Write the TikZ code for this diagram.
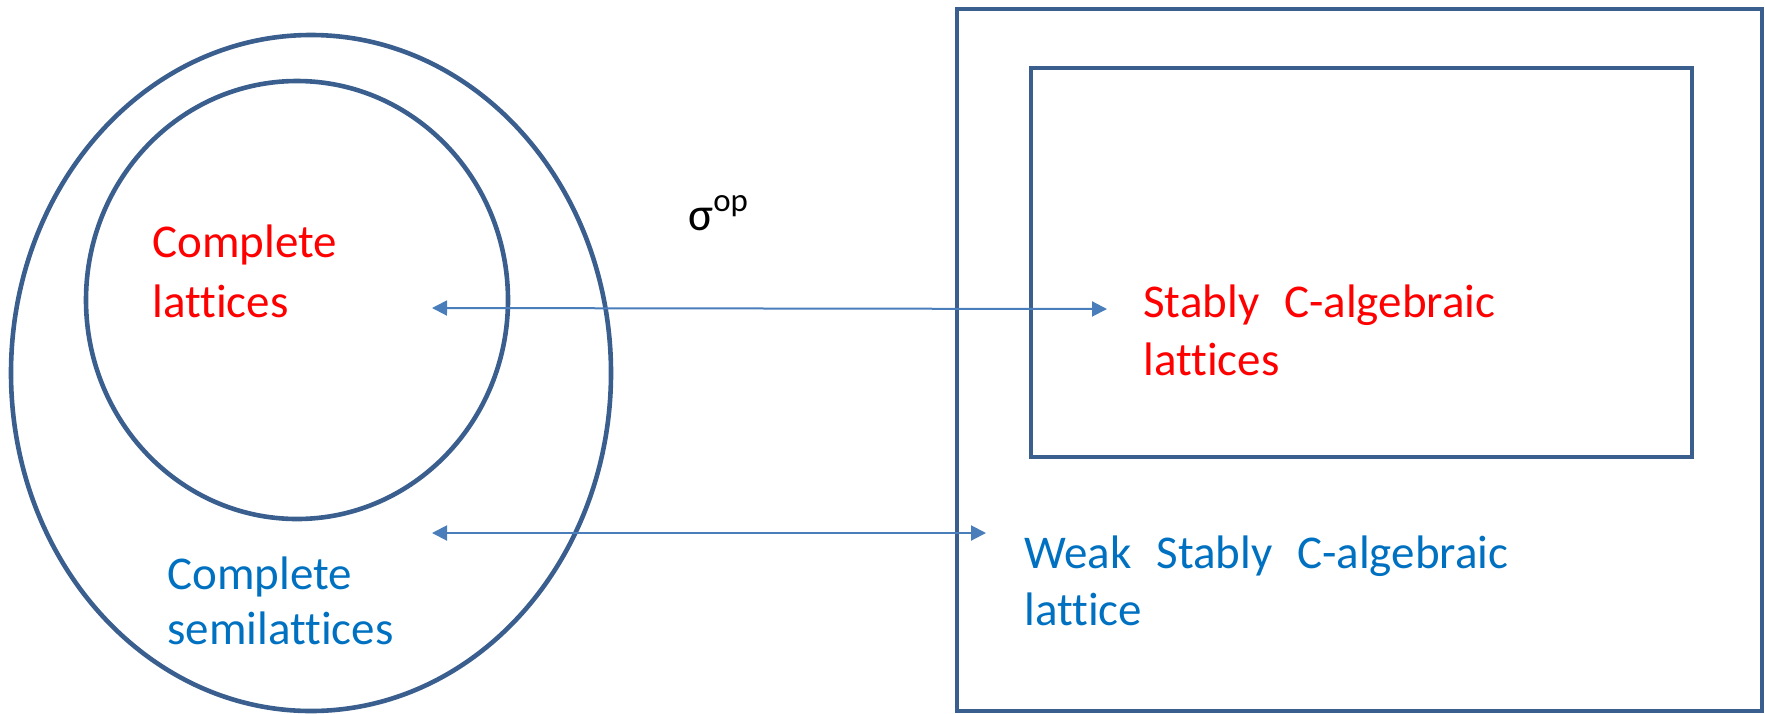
\documentclass[tikz,border=0pt]{standalone}
\usepackage{fontspec}
\setmainfont{Carlito}[Ligatures={NoCommon}]
\usetikzlibrary{arrows.meta}
\definecolor{outl}{HTML}{3A5F8F}
\definecolor{arr}{HTML}{4A7EBB}
\definecolor{redt}{HTML}{FF0000}
\definecolor{bluet}{HTML}{0070C0}
\tikzset{
  shapeline/.style={draw=outl, line width=2.3pt},
  conn/.style={draw=arr, line width=1pt, {Triangle[length=7.5pt,width=7.5pt]}-{Triangle[length=7.5pt,width=7.5pt]}},
  lbl/.style={anchor=base west, inner sep=0pt, font=\fontsize{23.5}{31}\selectfont, align=left},
}
\begin{document}
\begin{tikzpicture}[x=0.5pt,y=-0.5pt]
\useasboundingbox (0,0) rectangle (1765,713);
% ellipses
\draw[shapeline] (311,373) ellipse [x radius=300, y radius=338];
\draw[shapeline] (297,300) ellipse [x radius=211, y radius=219];
% rectangles
\draw[shapeline] (957,9) rectangle (1762,711);
\draw[shapeline] (1031,68) rectangle (1692,457);
% labels
\node[lbl, text=redt] (cl1) at (152,257) {Complete};
\node[lbl, text=redt] (cl2) at (152,317) {lattices};
\node[lbl, text=redt] (sc1) at (1143,317) {Stably\hspace{0.3em} C-algebraic};
\node[lbl, text=redt] (sc2) at (1143,375) {lattices};
\node[lbl, text=bluet] (cs1) at (167,589) {Complete};
\node[lbl, text=bluet] (cs2) at (167,644) {semilattices};
\node[lbl, text=bluet] (ws1) at (1024,568) {Weak\hspace{0.3em} Stably\hspace{0.3em} C-algebraic};
\node[lbl, text=bluet] (ws2) at (1024,625) {lattice};
\node[lbl, text=black] (sig) at (688,230) {σ\textsuperscript{op}};
% arrows
\coordinate (a1l) at (432,308);
\coordinate (a1r) at (1107,309);
\coordinate (a2l) at (432,533);
\coordinate (a2r) at (986,533);
\draw[conn] (a1l) -- (a1r);
\draw[conn] (a2l) -- (a2r);
\end{tikzpicture}
\end{document}
